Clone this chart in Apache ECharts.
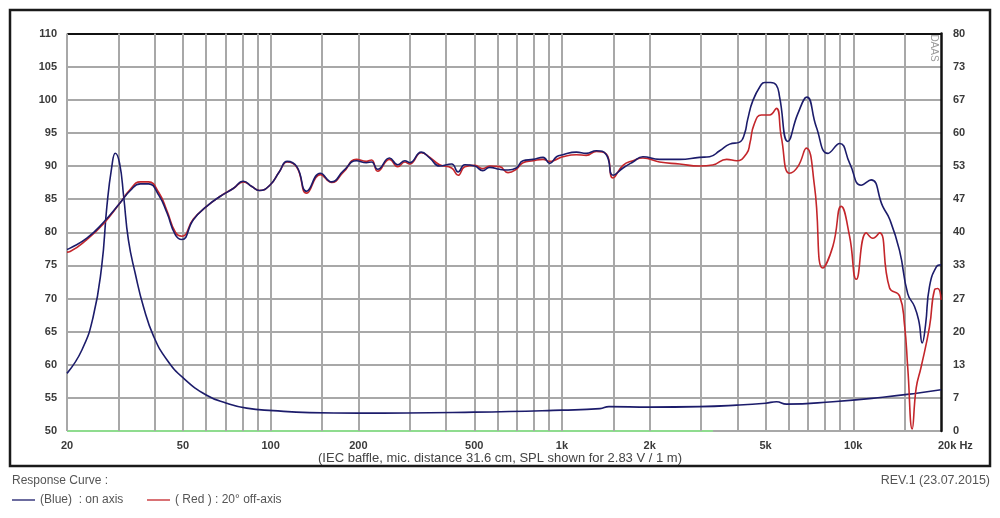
<!DOCTYPE html>
<html>
<head>
<meta charset="utf-8">
<script src="https://cdn.jsdelivr.net/npm/echarts@6/dist/echarts.min.js"></script>
<style>
html,body{margin:0;padding:0;background:#fff;}
#chart{width:1000px;height:518px;}
</style>
</head>
<body>
<div id="chart"></div>
<script>
// ---------------- DATA ----------------
// On-axis SPL (blue) [Hz, dB]
const onAxis = [
[20,77.4],[20.5,77.6],[23.4,79.1],[26.7,81.5],[30.4,84.4],[33,86.3],[35.7,87.3],[38.1,87.3],[41.3,85.6],[44.1,82.9],
[47.1,79.6],[49.6,78.9],[54.3,81.9],[60.3,83.9],[67,85.4],[74.4,86.6],[80.6,87.7],[86.2,86.9],[91.5,86.3],[99.4,87.1],
[107,89.1],[114,90.7],[123,89.9],[133,86.2],[148,88.9],[162,87.6],[178,89.3],[197,90.8],[213,90.5],[222,90.6],
[233,89.5],[256,91.2],[273,90.2],[289,90.8],[300,90.5],[329,92.1],[352,91.2],[380,90.0],[418,90.3],[440,89.1],
[464,90.2],[502,90.0],[535,89.3],[565,89.8],[611,89.5],[653,89.4],[697,89.7],[735,90.8],[796,91.0],[861,91.3],
[908,90.4],[958,91.4],[1007,91.7],[1120,92.1],[1212,91.9],[1312,92.3],[1420,91.7],[1497,88.6],[1620,89.7],[1752,90.6],
[1896,91.4],[2160,91.0],[2532,91.0],[2966,91.3],[3212,91.4],[3478,92.3],[3764,93.3],[4072,93.6],[4236,94.9],[4338,97.0],
[4524,99.9],[4834,102.3],[4960,102.6],[5200,102.6],[5442,102.2],[5586,100.4],[5962,93.7],[6452,97.9],[6930,100.4],[7465,95.9],
[8185,91.9],[8980,93.4],[9720,90.4],[10640,87.1],[11510,87.9],[12620,83.9],[13320,82.0],[14400,77.3],[15380,70.7],[16220,68.8],
[16800,66.5],[17240,63.3],[17700,66.0],[18260,71.8],[19300,74.8],[20000,75.1]
];
// 20 deg off-axis SPL (red) [Hz, dB]
const offAxis = [
[20,77.0],[20.5,77.1],[23.4,78.9],[26.7,81.3],[30.4,84.4],[33,86.5],[35.7,87.6],[38.1,87.6],[41.3,86.0],[44.1,83.2],
[47.1,80.0],[49.6,79.4],[54.3,82.0],[60.3,83.9],[67,85.4],[74.4,86.6],[80.6,87.6],[86.2,86.9],[91.5,86.3],[99.4,87.1],
[107,89.1],[114,90.6],[123,89.8],[133,85.9],[148,88.7],[162,87.5],[178,89.1],[197,91.0],[213,90.7],[222,90.9],
[233,89.2],[256,91.0],[273,89.9],[289,90.6],[300,90.3],[329,92.0],[352,91.3],[380,90.2],[418,89.7],[440,88.6],
[464,89.9],[502,90.1],[535,89.6],[565,90.0],[611,89.9],[653,89.0],[697,89.5],[735,90.5],[796,90.8],[861,91.0],
[908,90.7],[958,91.0],[1007,91.4],[1120,91.7],[1212,91.6],[1312,92.2],[1420,91.8],[1497,88.2],[1620,90.1],[1752,90.8],
[1896,91.2],[2160,90.6],[2532,90.3],[2966,90.0],[3290,90.15],[3676,91.0],[3978,90.8],[4304,91.9],[4420,93.5],[4560,96.2],
[4834,97.7],[5160,97.7],[5442,98.7],[5660,94.4],[6044,88.9],[6452,89.9],[6898,92.7],[7362,86.9],[7860,74.6],[8510,77.9],
[9092,83.9],[9710,79.4],[10240,72.9],[11080,79.9],[11670,79.1],[12300,79.9],[13320,71.6],[14410,70.4],[14990,66.0],[15380,59.5],
[15930,50.3],[16440,56.5],[17100,59.7],[18260,65.7],[19000,71.3],[19500,71.5],[20000,69.8]
];
// Impedance (blue, right axis) [Hz, ohm]
const impedance = [
[20,11.6],[22.5,16.3],[24.6,23.0],[26.3,33.1],[27.4,45.1],[28.5,53.2],[29.3,55.9],[30.3,53.9],[31.3,47.2],[32.5,38.4],
[34.3,31.7],[36.6,25.0],[39.7,19.0],[44.1,14.3],[50.3,10.6],[60.3,7.2],[70.6,5.6],[82.7,4.6],[102,4.1],[136,3.7],
[200,3.6],[500,3.8],[1000,4.2],[1350,4.5],[1450,4.9],[2000,4.8],[2966,4.9],[3980,5.2],[5000,5.6],[5450,5.9],
[5900,5.4],[8510,5.9],[12620,6.8],[16500,7.6],[20000,8.3]
];
// Green baseline segment [Hz, dB]
const greenLine = [[20,50],[3300,50]];

// Axis ticks / grid
const gridFreqs = [20,30,40,50,60,70,80,90,100,150,200,300,400,500,600,700,800,900,1000,1500,2000,3000,4000,5000,6000,7000,8000,9000,10000,15000];
const labelFreqs = [20,50,100,200,500,1000,2000,5000,10000,20000];
const labelTexts = ['20','50','100','200','500','1k','2k','5k','10k','20k Hz'];
const splMin = 50, splMax = 110, splStep = 5;
const ohmMin = 0, ohmMax = 80, ohmSteps = 12;

// ---------------- CHART ----------------
const chart = echarts.init(document.getElementById('chart'), null, {renderer:'canvas'});
const labelFont = {fontFamily:'Liberation Sans, Arial, sans-serif', fontSize:11, fontWeight:'bold', color:'#3a3a3a'};
const gridColor = '#a8a8a8';

const vLines = gridFreqs.map(f => {
  const i = labelFreqs.indexOf(f);
  return i >= 0 ? {xAxis:f, label:{show:true, formatter:labelTexts[i]}} : {xAxis:f, label:{show:false}};
});
vLines.push({xAxis:20000, lineStyle:{color:'rgba(0,0,0,0)', width:0.1},
  label:{show:true, formatter:labelTexts[labelTexts.length-1], align:'left', padding:[0,0,0,-3], color:'#3a3a3a', opacity:1}});

const hColors = [];
for (let i = 0; i < (splMax - splMin) / splStep; i++) hColors.push(gridColor);
hColors.push('#111');

const smoothK = 0.5;

const option = {
  animation:false,
  backgroundColor:'#ffffff',
  grid:{left:67, right:59, top:33.5, bottom:87, show:false},
  xAxis:{
    type:'log', logBase:10, min:20, max:20000,
    axisLine:{show:false}, axisTick:{show:false}, axisLabel:{show:false}, splitLine:{show:false}
  },
  yAxis:[
    {type:'value', min:splMin, max:splMax, interval:splStep, position:'left',
     axisLine:{show:false}, axisTick:{show:false},
     axisLabel:Object.assign({margin:10}, labelFont),
     splitLine:{show:true, lineStyle:{color:hColors, width:2}}},
    {type:'value', min:ohmMin, max:ohmMax, interval:(ohmMax-ohmMin)/ohmSteps, position:'right',
     axisLine:{show:true, lineStyle:{color:'#111', width:2.5}}, axisTick:{show:false},
     axisLabel:Object.assign({margin:12, formatter:v => String(Math.round(v))}, labelFont),
     splitLine:{show:false}}
  ],
  series:[
    {type:'line', name:'green', data:greenLine, yAxisIndex:0, symbol:'none', z:2,
     lineStyle:{color:'#8fdc8f', width:2}, silent:true,
     markLine:{silent:true, symbol:['none','none'], animation:false,
       lineStyle:{color:gridColor, width:2, type:'solid'},
       label:Object.assign({position:'start', distance:9}, labelFont),
       emphasis:{disabled:true},
       data:vLines}},
    {type:'line', name:'impedance', data:impedance, yAxisIndex:1, symbol:'none', z:9,
     smooth:smoothK, lineStyle:{color:'#1c1c6b', width:1.6}},
    {type:'line', name:'off-axis', data:offAxis, yAxisIndex:0, symbol:'none', z:10,
     smooth:smoothK, lineStyle:{color:'#c4262b', width:1.6}},
    {type:'line', name:'on-axis', data:onAxis, yAxisIndex:0, symbol:'none', z:11,
     smooth:smoothK, lineStyle:{color:'#1c1c6b', width:1.6}}
  ],
  graphic:[
    {type:'rect', shape:{x:10, y:10, width:980, height:456}, style:{fill:'none', stroke:'#1a1a1a', lineWidth:2.5}, silent:true, z:100},
    {type:'text', x:934, y:48, rotation:-Math.PI/2, style:{text:'DAAS', fill:'#9a9a9a', font:'10px Liberation Sans, Arial', align:'center', verticalAlign:'middle'}, z:100},
    {type:'text', x:500, y:458, style:{text:'(IEC baffle, mic. distance 31.6 cm, SPL shown for 2.83 V / 1 m)', fill:'#444', font:'13px Liberation Sans, Arial', align:'center', verticalAlign:'middle'}, z:100},
    {type:'text', x:12, y:481, style:{text:'Response Curve :', fill:'#555', font:'12px Liberation Sans, Arial', align:'left', verticalAlign:'middle'}, z:100},
    {type:'line', shape:{x1:12, y1:500, x2:35, y2:500}, style:{stroke:'#1c1c6b', lineWidth:1.3}, z:100},
    {type:'text', x:40, y:500, style:{text:'(Blue)  : on axis', fill:'#555', font:'12px Liberation Sans, Arial', align:'left', verticalAlign:'middle'}, z:100},
    {type:'line', shape:{x1:147, y1:500, x2:170, y2:500}, style:{stroke:'#c4262b', lineWidth:1.3}, z:100},
    {type:'text', x:175, y:500, style:{text:'( Red ) : 20\u00b0 off-axis', fill:'#555', font:'12px Liberation Sans, Arial', align:'left', verticalAlign:'middle'}, z:100},
    {type:'text', x:990, y:481, style:{text:'REV.1 (23.07.2015)', fill:'#555', font:'12.5px Liberation Sans, Arial', align:'right', verticalAlign:'middle'}, z:100}
  ]
};
chart.setOption(option);
</script>
</body>
</html>
